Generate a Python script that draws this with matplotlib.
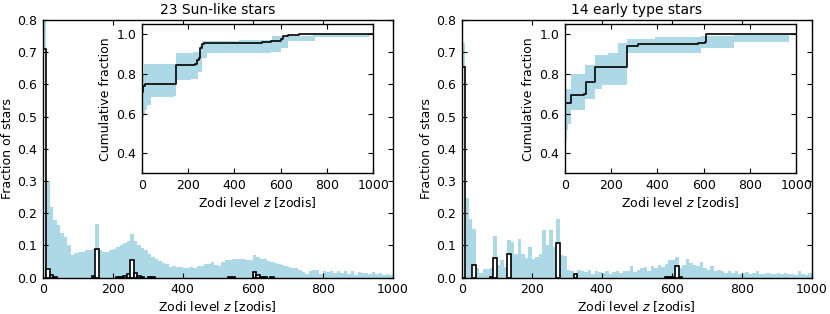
import numpy as np
import matplotlib.pyplot as plt

### DATOS ###
# histogramas en bins de 10 zodis, de 0 a 1000
bin_edges = np.arange(0, 1001, 10)

sun_band = [0.85, 0.30, 0.22, 0.18, 0.165, 0.14, 0.125, 0.10, 0.07, 0.077,
            0.08, 0.079, 0.085, 0.087, 0.09, 0.168, 0.085, 0.08, 0.08, 0.085,
            0.09, 0.095, 0.10, 0.107, 0.114, 0.135, 0.114, 0.10, 0.093, 0.085,
            0.075, 0.064, 0.059, 0.052, 0.045, 0.041, 0.033, 0.035, 0.033, 0.033,
            0.031, 0.031, 0.033, 0.031, 0.035, 0.036, 0.041, 0.043, 0.049, 0.04,
            0.035, 0.049, 0.054, 0.056, 0.058, 0.057, 0.059, 0.058, 0.056, 0.054,
            0.071, 0.064, 0.059, 0.057, 0.051, 0.049, 0.047, 0.041, 0.038, 0.035,
            0.033, 0.031, 0.03, 0.023, 0.018, 0.01, 0.02, 0.025, 0.023, 0.012,
            0.02, 0.018, 0.02, 0.016, 0.02, 0.016, 0.021, 0.012, 0.02, 0.007,
            0.018, 0.015, 0.015, 0.01, 0.019, 0.012, 0.015, 0.007, 0.012, 0.007]

sun_best = np.zeros(100)
sun_best_bins = [0, 1, 2, 3, 14, 15, 21, 22, 23, 24, 25, 26, 27, 28, 30, 31,
                 53, 54, 60, 61, 62, 63, 65]
sun_best_vals = [0.71, 0.028, 0.008, 0.003, 0.004, 0.09, 0.002, 0.003, 0.005,
                 0.012, 0.055, 0.015, 0.004, 0.002, 0.002, 0.002,
                 0.003, 0.003, 0.017, 0.008, 0.003, 0.002, 0.002]
sun_best[sun_best_bins] = sun_best_vals

early_band = [0.73, 0.247, 0.183, 0.15, 0.03, 0.015, 0.028, 0.027, 0.03, 0.13,
              0.04, 0.056, 0.033, 0.117, 0.112, 0.075, 0.12, 0.073, 0.06, 0.096,
              0.057, 0.065, 0.075, 0.148, 0.10, 0.148, 0.096, 0.182, 0.07, 0.068,
              0.025, 0.02, 0.015, 0.025, 0.02, 0.018, 0.025, 0.012, 0.02, 0.018,
              0.015, 0.02, 0.01, 0.018, 0.02, 0.015, 0.02, 0.02, 0.035, 0.018,
              0.023, 0.031, 0.033, 0.02, 0.035, 0.03, 0.038, 0.033, 0.043, 0.054,
              0.056, 0.064, 0.03, 0.04, 0.058, 0.045, 0.04, 0.035, 0.05, 0.03,
              0.025, 0.035, 0.02, 0.025, 0.02, 0.015, 0.02, 0.015, 0.02, 0.012,
              0.015, 0.018, 0.01, 0.015, 0.02, 0.01, 0.012, 0.015, 0.01, 0.012,
              0.015, 0.012, 0.015, 0.01, 0.012, 0.008, 0.02, 0.01, 0.008, 0.015]

early_best = np.zeros(100)
early_best_bins = [0, 3, 8, 9, 13, 27, 32, 58, 59, 60, 61, 62]
early_best_vals = [0.655, 0.038, 0.003, 0.062, 0.075, 0.107, 0.01,
                   0.002, 0.002, 0.003, 0.036, 0.002]
early_best[early_best_bins] = early_best_vals

# fraccion acumulada (escalones) y banda de confianza
sun_cum_z = [0, 5, 15, 150, 230, 240, 248, 253, 260, 268, 290, 520, 560, 600, 612, 630, 680, 1000]
sun_cum = [0.71, 0.74, 0.75, 0.845, 0.85, 0.87, 0.88, 0.93, 0.95, 0.955, 0.958,
           0.962, 0.965, 0.975, 0.99, 0.995, 1.0, 1.0]
sun_hi_z = [0, 8, 150, 220, 250, 262, 420, 562, 740, 1000]
sun_hi = [0.80, 0.848, 0.904, 0.91, 0.946, 0.968, 0.972, 0.99, 0.997, 1.0]
sun_lo_z = [0, 5, 10, 15, 25, 40, 140, 150, 215, 245, 260, 281, 560, 600, 630, 750, 980, 1000]
sun_lo = [0.52, 0.58, 0.60, 0.62, 0.645, 0.684, 0.69, 0.77, 0.777, 0.81, 0.88,
          0.904, 0.91, 0.93, 0.965, 0.985, 1.0, 1.0]

early_cum_z = [0, 27, 85, 90, 130, 270, 317, 575, 605, 611, 1000]
early_cum = [0.655, 0.695, 0.70, 0.76, 0.835, 0.94, 0.95, 0.955, 0.96, 1.0, 1.0]
early_hi_z = [0, 27, 87, 130, 188, 231, 267, 389, 590, 733, 1000]
early_hi = [0.725, 0.80, 0.845, 0.895, 0.905, 0.955, 0.976, 0.985, 0.99, 0.997, 1.0]
early_lo_z = [0, 3, 8, 15, 27, 87, 130, 160, 267, 590, 733, 970, 1000]
early_lo = [0.40, 0.47, 0.52, 0.55, 0.617, 0.672, 0.726, 0.743, 0.907, 0.93, 0.963, 1.0, 1.0]

titles = ['23 Sun-like stars', '14 early type stars']

### ESTILO ###
plt.rcParams['font.family'] = 'DejaVu Sans'
plt.rcParams['font.size'] = 9
plt.rcParams['mathtext.fontset'] = 'dejavusans'
plt.rcParams['axes.linewidth'] = 1.0
plt.rcParams['xtick.direction'] = 'in'
plt.rcParams['ytick.direction'] = 'in'
plt.rcParams['xtick.top'] = True
plt.rcParams['ytick.right'] = True
plt.rcParams['xtick.major.size'] = 3.5
plt.rcParams['ytick.major.size'] = 3.5
plt.rcParams['xtick.major.pad'] = 4
plt.rcParams['ytick.major.pad'] = 4

azul = '#add8e6'


def escalon(zs, vals, grid):
    # valor del escalon (post) en cada punto de grid
    idx = np.searchsorted(zs, grid, side='right') - 1
    return np.asarray(vals)[idx]


fig = plt.figure(figsize=(8.3, 3.14), dpi=100)

paneles = [
    (0.0514, 0.1707, sun_band, sun_best, sun_cum_z, sun_cum, sun_lo_z, sun_lo, sun_hi_z, sun_hi),
    (0.5563, 0.6804, early_band, early_best, early_cum_z, early_cum, early_lo_z, early_lo, early_hi_z, early_hi),
]

for k, (x0, xi, band, best, cz, cv, lz, lv, hz, hv) in enumerate(paneles):
    ax = fig.add_axes([x0, 0.1156, 0.4217, 0.8207])
    ax.stairs(band, bin_edges, fill=True, color=azul, linewidth=0)
    nz = best > 0
    ax.bar(bin_edges[:-1][nz], best[nz], width=10, align='edge',
           facecolor='white', edgecolor='black', linewidth=1.2)
    ax.set_xlim(0, 1000)
    ax.set_ylim(0, 0.8)
    ax.set_xticks(np.arange(0, 1001, 200))
    ax.set_yticks(np.arange(0, 0.81, 0.1))
    ax.set_xlabel('Zodi level $z$ [zodis]', labelpad=2)
    ax.set_ylabel('Fraction of stars', labelpad=2)
    ax.set_title(titles[k], fontsize=10, pad=4)

    # inset con la fraccion acumulada
    axi = fig.add_axes([xi, 0.4481, 0.2790, 0.4745])
    grid = np.union1d(lz, hz)
    axi.fill_between(grid, escalon(lz, lv, grid), escalon(hz, hv, grid),
                     step='post', color=azul, linewidth=0)
    axi.step(cz, cv, where='post', color='black', linewidth=1.2)
    axi.set_xlim(0, 1000)
    axi.set_ylim(0.3, 1.05)
    axi.set_xticks(np.arange(0, 1001, 200))
    axi.set_yticks([0.4, 0.6, 0.8, 1.0])
    axi.set_xlabel('Zodi level $z$ [zodis]', labelpad=2)
    axi.set_ylabel('Cumulative fraction', labelpad=3)

fig.savefig('out.png', dpi=100)
